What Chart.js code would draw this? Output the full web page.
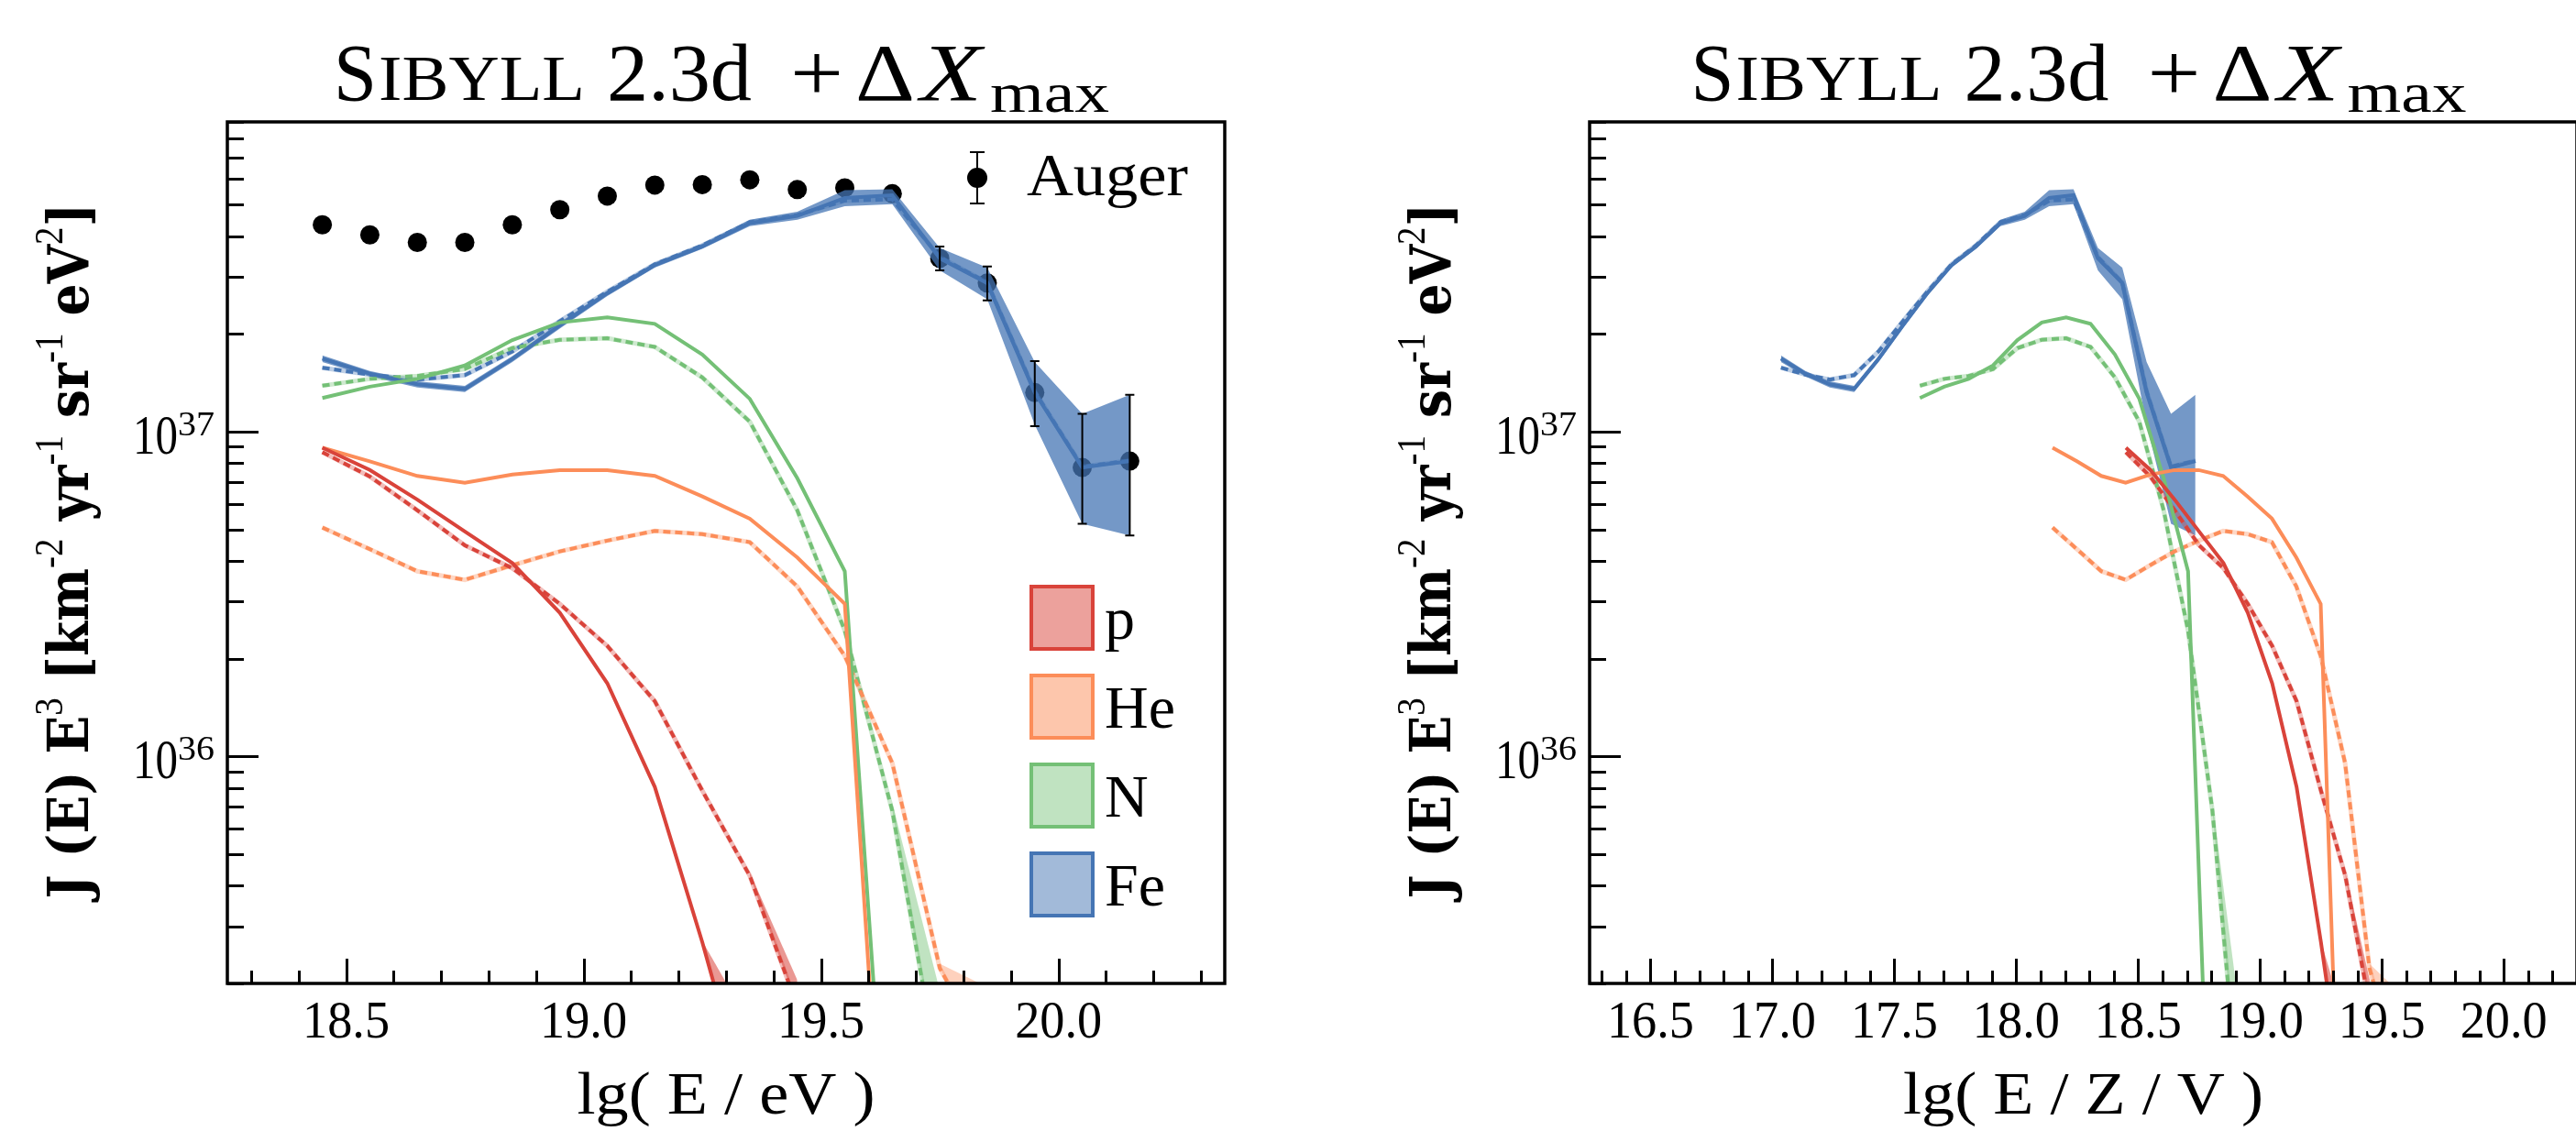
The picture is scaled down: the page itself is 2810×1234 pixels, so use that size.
<!DOCTYPE html>
<html>
<head>
<meta charset="utf-8">
<script src="https://cdn.jsdelivr.net/npm/chart.js@4.4.1/dist/chart.umd.min.js"></script>
<style>
  html, body { margin: 0; padding: 0; background: #fff; overflow: hidden; width: 2810px; height: 1234px; }
  canvas { position: absolute; top: 0; }
  #cE { left: 0; }
  #cR { left: 1400px; }
</style>
</head>
<body>
<canvas id="cE" width="1400" height="1234"></canvas>
<canvas id="cR" width="1420" height="1234"></canvas>
<script>
// bin centres lg(E/eV)
const lgE = [18.45, 18.55, 18.65, 18.75, 18.85, 18.95, 19.05, 19.15, 19.25,
             19.35, 19.45, 19.55, 19.65, 19.75, 19.85, 19.95, 20.05, 20.15];

// Auger flux J(E) E^3 and its errors
const augerFlux = [4.34e37, 4.04e37, 3.83e37, 3.83e37, 4.34e37, 4.83e37, 5.32e37, 5.75e37, 5.77e37,
                   5.97e37, 5.57e37, 5.64e37, 5.41e37, 3.42e37, 2.87e37, 1.32e37, 7.76e36, 8.12e36];
const augerHigh = [null, null, null, null, null, null, null, null, null,
                   null, null, null, null, 3.72e37, 3.23e37, 1.65e37, 1.135e37, 1.30e37];
const augerLow  = [null, null, null, null, null, null, null, null, null,
                   null, null, null, null, 3.14e37, 2.54e37, 1.04e37, 5.21e36, 4.79e36];

// fitted components at Earth, solid = model A, dashed = model B
const pSolid  = [8.93e36, 7.63e36, 6.18e36, 4.93e36, 3.94e36, 2.77e36, 1.68e36, 8.06e35, 2.68e35, 8.0e34];
const pSolidHigh = [null, null, null, null, null, null, null, null, 2.7e35, 1.5e35];
const pDashed = [8.65e36, 7.28e36, 5.73e36, 4.47e36, 3.80e36, 2.95e36, 2.19e36, 1.48e36, 7.85e35, 4.29e35, 1.7e35];
const pDashedHigh = [null, null, null, null, null, null, null, null, null, 4.4e35, 2.05e35];

const heSolid  = [8.93e36, 8.11e36, 7.31e36, 6.97e36, 7.38e36, 7.62e36, 7.62e36, 7.31e36, 6.32e36,
                  5.40e36, 4.10e36, 2.95e36, 1.7e34];
const heDashed = [5.07e36, 4.35e36, 3.72e36, 3.50e36, 3.88e36, 4.28e36, 4.62e36, 4.95e36, 4.84e36,
                  4.57e36, 3.34e36, 2.04e36, 9.55e35, 2.23e35, 1.2e35];
const heDashedHigh = [null, null, null, null, null, null, null, null, null,
                      null, null, null, null, 2.3e35, 1.95e35];

const nSolid  = [1.27e37, 1.377e37, 1.455e37, 1.60e37, 1.915e37, 2.17e37, 2.25e37, 2.15e37, 1.73e37,
                 1.263e37, 7.19e36, 3.72e36, 3.0e34];
const nDashed = [1.386e37, 1.455e37, 1.486e37, 1.56e37, 1.81e37, 1.92e37, 1.94e37, 1.825e37, 1.47e37,
                 1.074e37, 5.73e36, 2.44e36, 6.8e35, 1.0e35];
const nDashedHigh = [null, null, null, null, null, null, null, null, null,
                     null, null, null, 7.2e35, 1.9e35];

const feSolid  = [1.68e37, 1.51e37, 1.40e37, 1.355e37, 1.675e37, 2.125e37, 2.67e37, 3.26e37, 3.72e37,
                  4.39e37, 4.62e37, 5.25e37, 5.35e37, 3.42e37, 2.87e37, 1.32e37, 7.76e36, 8.12e36];
const feHigh   = [1.72e37, 1.54e37, 1.43e37, 1.385e37, 1.71e37, 2.17e37, 2.72e37, 3.32e37, 3.79e37,
                  4.50e37, 4.76e37, 5.55e37, 5.58e37, 3.68e37, 3.20e37, 1.64e37, 1.135e37, 1.30e37];
const feLow    = [1.64e37, 1.48e37, 1.37e37, 1.325e37, 1.64e37, 2.08e37, 2.62e37, 3.20e37, 3.66e37,
                  4.30e37, 4.50e37, 4.95e37, 5.02e37, 3.14e37, 2.56e37, 1.05e37, 5.21e36, 4.79e36];
const feDashed = [1.575e37, 1.50e37, 1.448e37, 1.494e37, 1.767e37, 2.19e37, 2.70e37, 3.28e37, 3.75e37,
                  4.42e37, 4.65e37, 5.15e37, 5.2e37, 3.45e37, 2.88e37, 1.33e37, 7.8e36, 8.15e36];

// species, charge and colours
const species = ['p', 'He', 'N', 'Fe'];
const charge  = [1, 2, 7, 26];
const colors  = [[217, 67, 58], [252, 141, 89], [116, 192, 118], [69, 117, 180]];

// axis labels
const xTicksE = ['18.5', '19.0', '19.5', '20.0'];
const xTicksR = ['16.5', '17.0', '17.5', '18.0', '18.5', '19.0', '19.5', '20.0'];
const yTickExp = [36, 37];

const SERIF = '"Liberation Serif", "DejaVu Serif", "Noto Serif", "Times New Roman", serif';
const BOLD_SERIF = '"DejaVu Serif", "Liberation Serif", serif';
const rgba = (c, a) => `rgba(${c[0]},${c[1]},${c[2]},${a})`;

function pts(vals, shift) {
  const out = [];
  vals.forEach((v, i) => { if (v != null) out.push({ x: lgE[i] - shift, y: v }); });
  return out;
}
// lower edge of a band = the line itself where the band is defined
function under(high, line) {
  return high.map((h, i) => (h == null ? null : line[i]));
}

function buildSets(shifts, withAuger) {
  const sets = [];
  const band = (hi, lo, c, a, s) => {
    sets.push({ data: pts(hi, s), fill: '+1', backgroundColor: rgba(c, a), borderWidth: 0, order: 90 });
    sets.push({ data: pts(lo, s), fill: false, borderWidth: 0, order: 90 });
  };
  const dashed = (v, c, s) => {
    sets.push({ data: pts(v, s), borderColor: rgba(c, 0.35), borderWidth: 5, order: 80 });
    sets.push({ data: pts(v, s), borderColor: rgba(c, 1), borderWidth: 4, borderDash: [8, 5], order: 70 });
  };
  const solid = (v, c, s) => {
    sets.push({ data: pts(v, s), borderColor: rgba(c, 1), borderWidth: 4, order: 60 });
  };

  if (withAuger) {
    sets.push({
      data: pts(augerFlux, 0), showLine: false, pointRadius: 10.5,
      pointBackgroundColor: '#000', pointBorderWidth: 0, order: 100
    });
  }
  const [sp, she, sn, sfe] = shifts;
  band(feHigh, feLow, colors[3], 0.75, sfe);
  band(pSolidHigh, under(pSolidHigh, pSolid), colors[0], 0.55, sp);
  band(pDashedHigh, under(pDashedHigh, pDashed), colors[0], 0.55, sp);
  band(nDashedHigh, under(nDashedHigh, nDashed), colors[2], 0.45, sn);
  band(heDashedHigh, under(heDashedHigh, heDashed), colors[1], 0.4, she);

  dashed(pDashed, colors[0], sp);
  dashed(heDashed, colors[1], she);
  dashed(nDashed, colors[2], sn);
  dashed(feDashed, colors[3], sfe);

  solid(pSolid, colors[0], sp);
  solid(heSolid, colors[1], she);
  solid(nSolid, colors[2], sn);
  solid(feSolid, colors[3], sfe);
  return sets;
}

// a run may carry its own width (w) and a gap before it; otherwise squeezed by sx
function layoutRuns(ctx, runs, sx) {
  let total = 0;
  runs.forEach(r => {
    ctx.font = r.f;
    const nat = ctx.measureText(r.t).width;
    r.k = r.w ? r.w / nat : (sx || 1);
    r.ww = nat * r.k;
    total += (r.gap || 0) + r.ww;
  });
  return total;
}
function drawRuns(ctx, runs, x, y, align, sx) {
  const total = layoutRuns(ctx, runs, sx);
  let cur = align === 'center' ? x - total / 2 : align === 'right' ? x - total : x;
  ctx.fillStyle = '#000';
  ctx.textAlign = 'left';
  ctx.textBaseline = 'alphabetic';
  runs.forEach(r => {
    cur += r.gap || 0;
    ctx.save();
    ctx.translate(cur, y + (r.dy || 0));
    ctx.scale(r.k, 1);
    ctx.font = r.f;
    ctx.fillText(r.t, 0, 0);
    ctx.restore();
    cur += r.ww;
  });
  return total;
}

const titleRuns = () => [
  { t: 'S', f: `88px ${SERIF}`, w: 47 },
  { t: 'IBYLL', f: `69px ${SERIF}`, w: 225, gap: 2 },
  { t: '2.3d', f: `88px ${SERIF}`, w: 158, gap: 24 },
  { t: '+', f: `88px ${SERIF}`, w: 58, gap: 42 },
  { t: 'Δ', f: `88px ${SERIF}`, w: 65, gap: 13 },
  { t: 'X', f: `italic 88px ${SERIF}`, w: 67, gap: 6 },
  { t: 'max', f: `62px ${SERIF}`, w: 130, gap: 9, dy: 13 }
];

const YB = `bold 62px ${BOLD_SERIF}`;
const YS = `44px ${SERIF}`;
const yTitleRuns = () => [
  { t: 'J (E) E', f: YB }, { t: '3', f: YS, dy: -28 },
  { t: ' [km', f: YB }, { t: '-2', f: YS, dy: -28 },
  { t: ' yr', f: YB }, { t: '-1', f: YS, dy: -28 },
  { t: ' sr', f: YB }, { t: '-1', f: YS, dy: -28 },
  { t: ' eV', f: YB }, { t: '2', f: YS, dy: -28 },
  { t: ']', f: YB }
];

// frame, inward ticks, tick labels and titles
const axisPlugin = {
  id: 'axisFrame',
  afterDraw(chart, args, opts) {
    const { ctx, chartArea: a } = chart;
    const xs = chart.scales.x, ys = chart.scales.y;
    ctx.save();
    ctx.strokeStyle = '#000';
    ctx.lineWidth = 3;
    ctx.beginPath();
    for (let k = Math.ceil(xs.min * 10 - 1e-6); k <= Math.floor(xs.max * 10 + 1e-6); k++) {
      const px = Math.round(xs.getPixelForValue(k / 10)) + 0.5;
      const len = k % 5 === 0 ? 27 : 14;
      ctx.moveTo(px, a.bottom);
      ctx.lineTo(px, a.bottom - len);
    }
    for (let e = 35; e <= 37; e++) {
      for (let m = 1; m <= 9; m++) {
        const v = m * Math.pow(10, e);
        if (v < ys.min || v > ys.max) continue;
        const py = Math.round(ys.getPixelForValue(v)) + 0.5;
        ctx.moveTo(a.left, py);
        ctx.lineTo(a.left + (m === 1 ? 34 : 18), py);
      }
    }
    ctx.stroke();
    ctx.lineWidth = 3.5;
    ctx.strokeRect(a.left, a.top, a.right - a.left, a.bottom - a.top);

    opts.xTicks.forEach(t => {
      drawRuns(ctx, [{ t, f: `58px ${SERIF}`, w: 95 }], xs.getPixelForValue(parseFloat(t)), a.bottom + 59, 'center');
    });
    yTickExp.forEach(e => {
      const py = ys.getPixelForValue(Math.pow(10, e));
      drawRuns(ctx, [{ t: '10', f: `62px ${SERIF}`, w: 49 }, { t: String(e), f: `37px ${SERIF}`, w: 40, dy: -20 }],
        a.left - 14, py + 24, 'right');
    });

    const cx = (a.left + a.right) / 2;
    drawRuns(ctx, titleRuns(), cx - 5, a.top - 24, 'center');
    drawRuns(ctx, [{ t: opts.xTitle, f: `66px ${SERIF}`, w: opts.xTitleW }], cx, a.bottom + 142, 'center');

    ctx.save();
    ctx.translate(a.left - 152, (a.top + a.bottom) / 2 - 2);
    ctx.rotate(-Math.PI / 2);
    const runs = yTitleRuns();
    const w = layoutRuns(ctx, runs, 1);
    drawRuns(ctx, runs, 0, 0, 'center', 759 / w);
    ctx.restore();
    ctx.restore();
  }
};

// Auger error bars and the two legend blocks
const augerPlugin = {
  id: 'augerExtras',
  afterDatasetsDraw(chart) {
    const { ctx, chartArea: a } = chart;
    const xs = chart.scales.x, ys = chart.scales.y;
    ctx.save();
    ctx.strokeStyle = '#000';
    ctx.lineWidth = 2;
    ctx.beginPath();
    lgE.forEach((e, i) => {
      if (augerHigh[i] == null) return;
      const px = xs.getPixelForValue(e);
      const y1 = ys.getPixelForValue(augerHigh[i]), y2 = ys.getPixelForValue(augerLow[i]);
      ctx.moveTo(px, y1); ctx.lineTo(px, y2);
      ctx.moveTo(px - 5, y1); ctx.lineTo(px + 5, y1);
      ctx.moveTo(px - 5, y2); ctx.lineTo(px + 5, y2);
    });
    ctx.stroke();

    // Auger legend entry
    const ix = a.right - 270, iy = a.top + 61;
    ctx.beginPath();
    ctx.moveTo(ix, iy - 28); ctx.lineTo(ix, iy + 28);
    ctx.moveTo(ix - 8, iy - 28); ctx.lineTo(ix + 8, iy - 28);
    ctx.moveTo(ix - 8, iy + 28); ctx.lineTo(ix + 8, iy + 28);
    ctx.stroke();
    ctx.fillStyle = '#000';
    ctx.beginPath();
    ctx.arc(ix, iy, 11, 0, Math.PI * 2);
    ctx.fill();
    drawRuns(ctx, [{ t: 'Auger', f: `66px ${SERIF}`, w: 176 }], a.right - 216, a.top + 80, 'left');

    // species legend
    species.forEach((s, k) => {
      const bx = a.right - 211, by = a.top + 507 + k * 97;
      ctx.fillStyle = rgba(colors[k], k === 2 ? 0.45 : 0.5);
      ctx.fillRect(bx, by, 67, 68);
      ctx.strokeStyle = rgba(colors[k], 1);
      ctx.lineWidth = 4;
      ctx.strokeRect(bx, by, 67, 68);
      drawRuns(ctx, [{ t: s, f: `66px ${SERIF}` }], a.right - 131, by + 57, 'left');
    });
    ctx.restore();
  }
};

function makeChart(id, cfg) {
  return new Chart(document.getElementById(id), {
    type: 'line',
    data: { datasets: buildSets(cfg.shifts, cfg.auger) },
    options: {
      responsive: false,
      animation: false,
      devicePixelRatio: 1,
      layout: { padding: cfg.padding },
      elements: { line: { tension: 0 }, point: { radius: 0 } },
      plugins: {
        legend: { display: false },
        tooltip: { enabled: false },
        title: { display: false },
        axisFrame: { xTicks: cfg.xTicks, xTitle: cfg.xTitle, xTitleW: cfg.xTitleW }
      },
      scales: {
        x: { type: 'linear', min: cfg.xMin, max: cfg.xMax, display: false },
        y: { type: 'logarithmic', min: 2e35, max: 9e37, display: false }
      }
    },
    plugins: cfg.auger ? [augerPlugin, axisPlugin] : [axisPlugin]
  });
}

// flux vs energy
makeChart('cE', {
  shifts: [0, 0, 0, 0], auger: true,
  xMin: 18.25, xMax: 20.35, xTicks: xTicksE, xTitle: 'lg( E / eV )', xTitleW: 325,
  padding: { left: 248, top: 133, right: 64, bottom: 161 }
});

// flux vs rigidity: shift each species by lg Z
makeChart('cR', {
  shifts: charge.map(z => Math.log10(z)), auger: false,
  xMin: 16.25, xMax: 20.30, xTicks: xTicksR, xTitle: 'lg( E / Z / V )', xTitleW: 393,
  padding: { left: 334, top: 133, right: 9, bottom: 161 }
});
</script>
</body>
</html>
